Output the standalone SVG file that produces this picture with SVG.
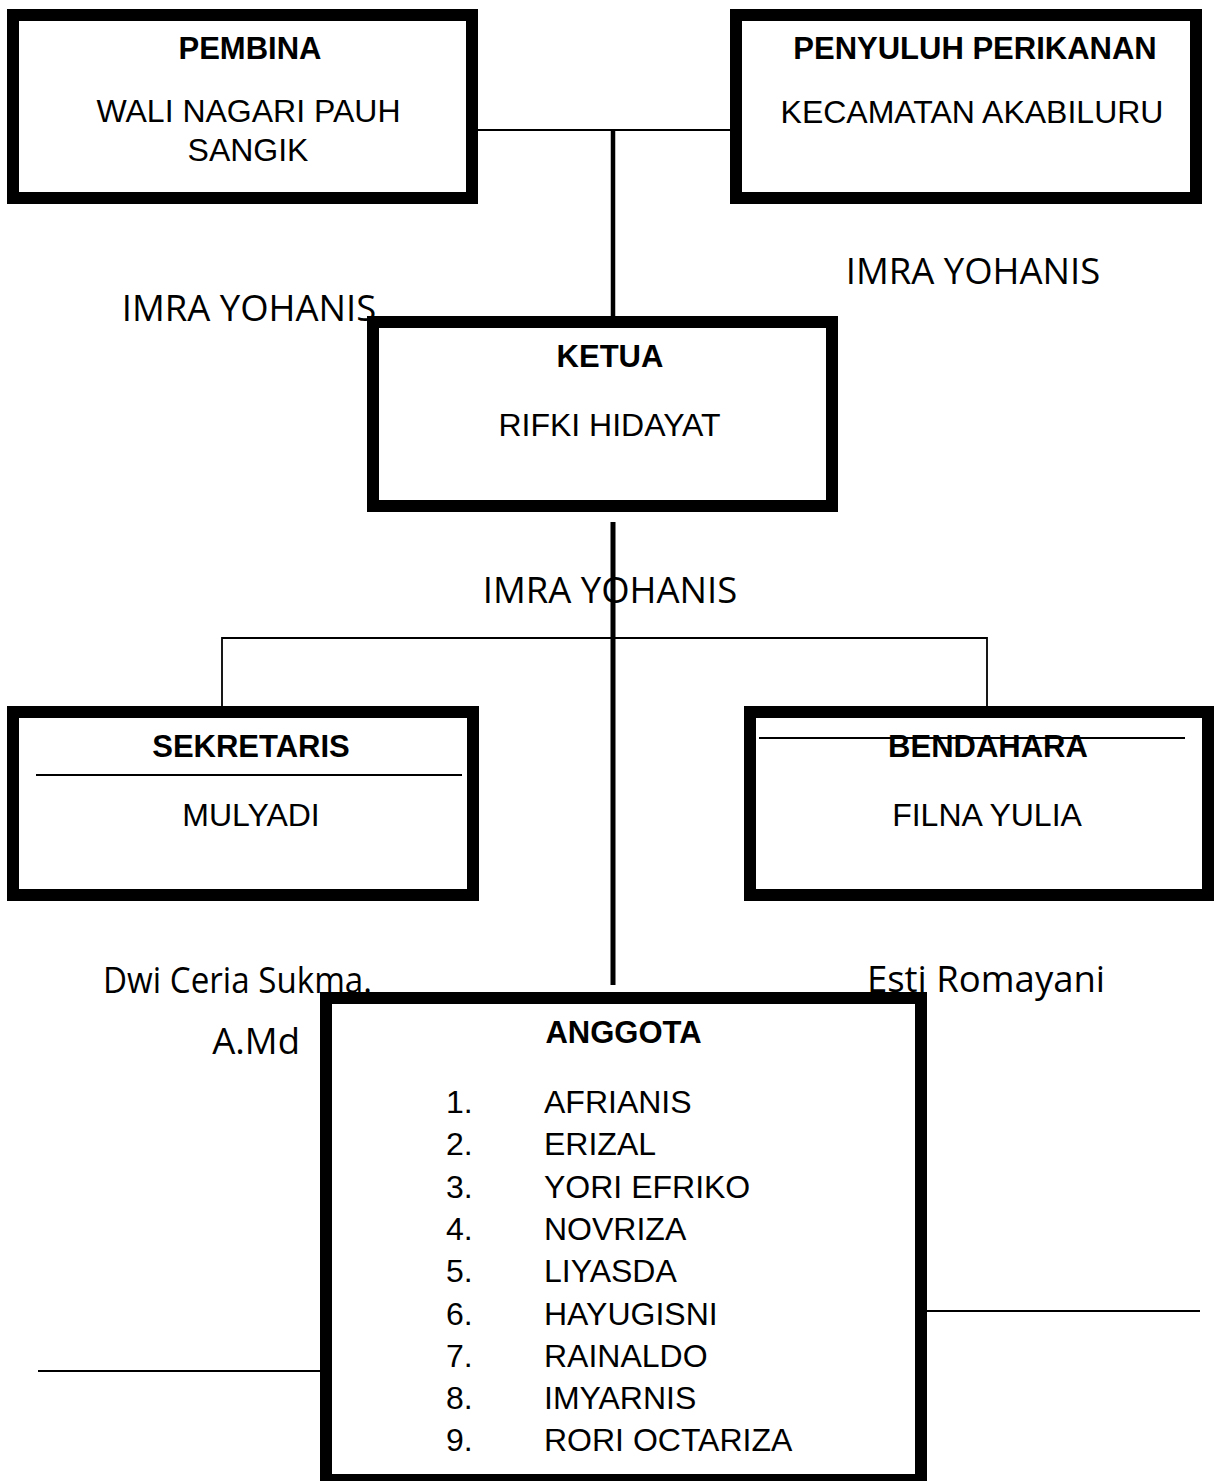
<svg xmlns="http://www.w3.org/2000/svg" width="1216" height="1481" viewBox="0 0 1216 1481">
<style>
.box{fill:#fff;stroke:#000;stroke-width:12}
.t{font-family:"Liberation Sans",Arial,sans-serif;font-size:32px;fill:#000;text-anchor:middle}
.b{font-weight:bold;font-size:31px}
.l{font-family:"Liberation Sans",Arial,sans-serif;font-size:32px;fill:#000}
.f{font-family:"Open Sans","Noto Sans",sans-serif;font-size:36.5px;fill:#000;text-anchor:middle}
.c{stroke:#000;fill:none}
</style>
<rect width="1216" height="1481" fill="#fff"/>
<g id="labels">
<text class="f" x="249" y="321">IMRA YOHANIS</text>
<text class="f" x="973" y="284">IMRA YOHANIS</text>
<text class="f" x="610" y="603">IMRA YOHANIS</text>
<text class="f" x="103" y="993" style="text-anchor:start" textLength="269" lengthAdjust="spacingAndGlyphs">Dwi Ceria Sukma.</text>
<text class="f" x="300" y="1054" style="text-anchor:end">A.Md</text>
<text class="f" x="986" y="992">Esti Romayani</text>
</g>
<g id="connectors">
<line class="c" x1="478" y1="130" x2="730" y2="130" stroke-width="2"/>
<line class="c" x1="613" y1="130" x2="613" y2="316" stroke-width="4.5"/>
<line class="c" x1="613" y1="522" x2="613" y2="985" stroke-width="5"/>
<polyline class="c" points="222,706 222,638 987,638 987,706" stroke-width="1.8"/>
<line class="c" x1="38" y1="1371" x2="320" y2="1371" stroke-width="2"/>
<line class="c" x1="927" y1="1311" x2="1200" y2="1311" stroke-width="2"/>
</g>
<g id="pembina">
<rect class="box" x="13" y="15" width="459" height="183"/>
<text class="t b" x="250" y="59">PEMBINA</text>
<text class="t" x="248.5" y="122">WALI NAGARI PAUH</text>
<text class="t" x="248" y="161">SANGIK</text>
</g>
<g id="penyuluh">
<rect class="box" x="736" y="15" width="460" height="183"/>
<text class="t b" x="975" y="59">PENYULUH PERIKANAN</text>
<text class="t" x="972" y="123">KECAMATAN AKABILURU</text>
</g>
<g id="ketua">
<rect class="box" x="373" y="322" width="459" height="184"/>
<text class="t b" x="610" y="367">KETUA</text>
<text class="t" x="609.5" y="436">RIFKI HIDAYAT</text>
</g>
<g id="sekretaris">
<rect class="box" x="13" y="712" width="460" height="183"/>
<text class="t b" x="251" y="757">SEKRETARIS</text>
<line class="c" x1="36" y1="775" x2="462" y2="775" stroke-width="1.8"/>
<text class="t" x="251" y="826">MULYADI</text>
</g>
<g id="bendahara">
<rect class="box" x="750" y="712" width="458" height="183"/>
<text class="t b" x="988" y="757">BENDAHARA</text>
<line class="c" x1="759" y1="738" x2="1185" y2="738" stroke-width="1.8"/>
<text class="t" x="987" y="826">FILNA YULIA</text>
</g>
<g id="anggota">
<rect class="box" x="326" y="998" width="595" height="482"/>
<text class="t b" x="623.5" y="1043">ANGGOTA</text>
<text class="l" x="446" y="1113">1.</text><text class="l" x="544" y="1113">AFRIANIS</text>
<text class="l" x="446" y="1155">2.</text><text class="l" x="544" y="1155">ERIZAL</text>
<text class="l" x="446" y="1197.5">3.</text><text class="l" x="544" y="1197.5">YORI EFRIKO</text>
<text class="l" x="446" y="1240">4.</text><text class="l" x="544" y="1240">NOVRIZA</text>
<text class="l" x="446" y="1282">5.</text><text class="l" x="544" y="1282">LIYASDA</text>
<text class="l" x="446" y="1324.5">6.</text><text class="l" x="544" y="1324.5">HAYUGISNI</text>
<text class="l" x="446" y="1366.5">7.</text><text class="l" x="544" y="1366.5">RAINALDO</text>
<text class="l" x="446" y="1408.5">8.</text><text class="l" x="544" y="1408.5">IMYARNIS</text>
<text class="l" x="446" y="1451">9.</text><text class="l" x="544" y="1451">RORI OCTARIZA</text>
</g>
</svg>
